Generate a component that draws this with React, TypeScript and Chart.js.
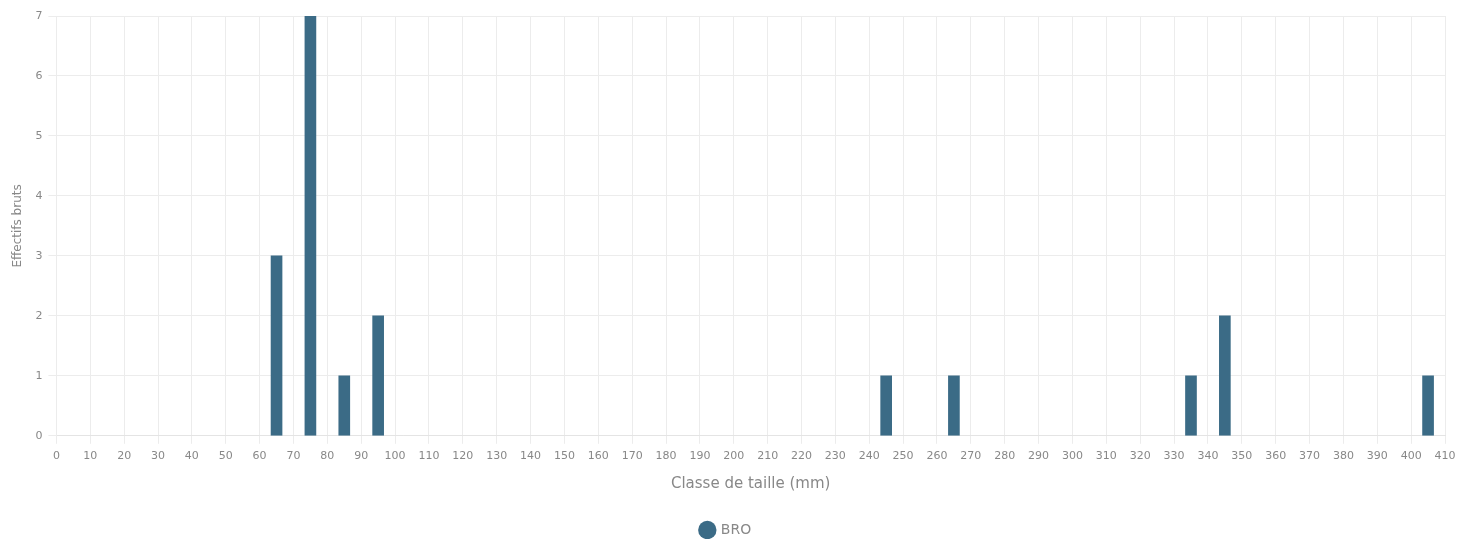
import React, { useEffect, useRef } from "react";
import { Chart, registerables } from "chart.js";

Chart.register(...registerables);

const seriesName = "BRO";
const sizeClasses = [65, 75, 85, 95, 245, 265, 335, 345, 405];
const counts = [3, 7, 1, 2, 1, 1, 1, 2, 1];
const xTitle = "Classe de taille (mm)";
const yTitle = "Effectifs bruts";
const barColor = "#3b6b86";

export default function App() {
  const ref = useRef<HTMLCanvasElement | null>(null);
  useEffect(() => {
    document.body.style.margin = "0";
    const ctx = ref.current!;
    const fam = "'DejaVu Sans', sans-serif";
    const font = { family: fam, size: 11 };
    const chart = new Chart(ctx, {
      type: "bar",
      data: {
        datasets: [
          {
            label: seriesName,
            data: sizeClasses.map((x, i) => ({ x, y: counts[i] })),
            backgroundColor: barColor,
            borderColor: barColor,
            barThickness: 11,
          },
        ],
      },
      options: {
        animation: false,
        responsive: false,
        maintainAspectRatio: false,
        layout: { padding: { top: 16, right: 33, left: 7, bottom: -8 } },
        scales: {
          x: {
            type: "linear",
            min: 0,
            max: 410,
            offset: false,
            ticks: { stepSize: 10, autoSkip: false, maxRotation: 0, color: "#888", font, padding: 6 },
            grid: { color: "#ececec", tickLength: 8, offset: false },
            border: { color: "#e4e4e4" },
            title: { display: true, text: xTitle, color: "#888", font: { family: fam, size: 15 }, padding: { top: 6, bottom: 18 } },
          },
          y: {
            min: 0,
            max: 7,
            ticks: { stepSize: 1, color: "#888", font, padding: 6 },
            grid: { color: "#ececec", tickLength: 8 },
            border: { color: "#ececec" },
            title: { display: true, text: yTitle, color: "#888", font: { family: fam, size: 12 }, padding: { bottom: 4 } },
          },
        },
        plugins: {
          legend: {
            position: "bottom",
            labels: { usePointStyle: true, pointStyle: "circle", boxWidth: 13, boxHeight: 13, color: "#888", font: { family: fam, size: 14 }, padding: 12 },
          },
          tooltip: { enabled: false },
        },
      },
    });
    return () => chart.destroy();
  }, []);
  return (
    <div style={{ position: "fixed", left: 0, top: 0, width: 1478, height: 539 }}>
      <canvas ref={ref} width={1478} height={539} style={{ width: 1478, height: 539 }} />
    </div>
  );
}
